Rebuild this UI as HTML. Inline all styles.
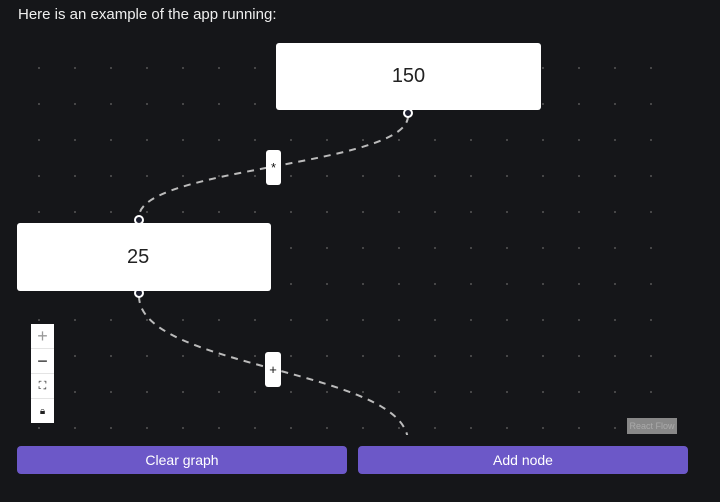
<!DOCTYPE html>
<html><head><style>
html,body{margin:0;padding:0;background:#151619;width:720px;height:502px;overflow:hidden;font-family:"Liberation Sans",sans-serif;}
.t{position:absolute;left:18px;top:6px;color:#eee;font-size:15px;}
.node{position:absolute;background:#fff;border-radius:3px;display:flex;align-items:center;justify-content:center;color:#222;font-size:20px;}
.lbl{position:absolute;background:#fff;border-radius:3px;display:flex;align-items:center;justify-content:center;font-size:13px;color:#111;}
.btn{position:absolute;top:446px;height:28px;background:#6c58c8;border-radius:4px;color:#fff;font-size:14px;display:flex;align-items:center;justify-content:center;}
.ctl{position:absolute;left:31px;width:23px;background:#fff;}
.ctl div{height:24px;border-bottom:1px solid #e4e4e4;display:flex;align-items:center;justify-content:center;font-size:14px;color:#222;}
</style></head><body>
<div class="t">Here is an example of the app running:</div>
<svg width="720" height="502" style="position:absolute;left:0;top:0">
<defs><pattern id="p" x="37" y="66" width="36" height="36" patternUnits="userSpaceOnUse"><rect x="1.3" y="1.3" width="1.4" height="1.4" fill="#777"/></pattern>
<clipPath id="c"><rect x="17" y="40" width="670" height="395"/></clipPath></defs>
<rect x="20" y="50" width="650" height="385" fill="url(#p)"/>
<g clip-path="url(#c)" fill="none" stroke="#bbb" stroke-width="2" stroke-dasharray="7 6">
<path d="M408,116 C408,166 139,167 139,217"/>
<path d="M139,296 C139,369 408,369 408,442"/>
</g>
<circle cx="408" cy="113" r="4" fill="#1e2030" stroke="#fff" stroke-width="2"/>
<circle cx="139" cy="220" r="4" fill="#1e2030" stroke="#fff" stroke-width="2"/>
<circle cx="139" cy="293" r="4" fill="#1e2030" stroke="#fff" stroke-width="2"/>
</svg>
<div class="node" style="left:276px;top:43px;width:265px;height:67px">150</div>
<div class="node" style="left:17px;top:223px;width:254px;height:68px;justify-content:flex-start;padding-left:110px;box-sizing:border-box">25</div>
<div class="lbl" style="left:266px;top:150px;width:15px;height:35px">*</div>
<div class="lbl" style="left:265px;top:352px;width:16px;height:35px">+</div>
<div class="ctl" style="top:324px"><div style="color:#999;font-size:18px">+</div><div style="font-size:18px">−</div><div style="font-size:11px">⛶</div><div style="border:none;font-size:10px">🔒︎</div></div>
<div style="position:absolute;left:627px;top:418px;width:50px;height:16px;background:#888;color:#aaa;font-size:9px;display:flex;align-items:center;justify-content:center">React Flow</div>
<div class="btn" style="left:17px;width:330px">Clear graph</div>
<div class="btn" style="left:358px;width:330px">Add node</div>
</body></html>
